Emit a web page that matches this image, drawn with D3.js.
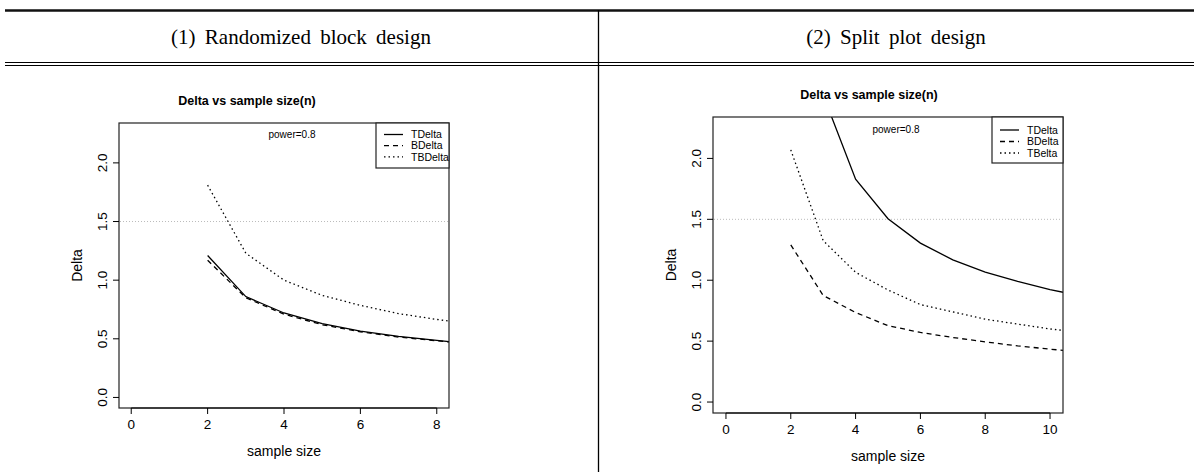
<!DOCTYPE html>
<meta charset="utf-8">
<script src="https://cdnjs.cloudflare.com/ajax/libs/d3/7.3.0/d3.min.js"></script>
<style>
  body { margin: 0; background: #fff; }
  svg text { font-family: "Liberation Sans", Arial, sans-serif; fill: #000; }
  .head { font-family: "Liberation Serif", "DejaVu Serif", serif; font-size: 21px; word-spacing: 4px; }
</style>
<div id="my_dataviz"></div>
<script>

    // sample sizes (n) and the delta values for each design
    const sampleSizes = [2, 3, 4, 5, 6, 7, 8, 9, 10, 11];

    // (1) randomized block design
    const rbdTDelta  = [1.21, 0.86, 0.72, 0.63, 0.565, 0.52, 0.486, 0.455, 0.43, 0.41];
    const rbdBDelta  = [1.17, 0.85, 0.71, 0.62, 0.56, 0.515, 0.483, 0.453, 0.43, 0.41];
    const rbdTBDelta = [1.81, 1.23, 1.00, 0.87, 0.785, 0.715, 0.665, 0.625, 0.59, 0.56];

    // (2) split plot design
    const spdTDelta = [3.80, 2.52, 1.83, 1.505, 1.305, 1.167, 1.066, 0.99, 0.922, 0.87];
    const spdBDelta = [1.29, 0.875, 0.735, 0.627, 0.571, 0.53, 0.494, 0.461, 0.434, 0.41];
    const spdTBelta = [2.07, 1.325, 1.065, 0.92, 0.80, 0.74, 0.68, 0.64, 0.60, 0.57];

    const xTicks = [0, 2, 4, 6, 8, 10];
    const yTicks = [0, 0.5, 1.0, 1.5, 2.0];
    const headers = ["(1) Randomized block design", "(2) Split plot design"];
    const refLine = 1.5;

    var svg = d3.select("#my_dataviz")
        .append("svg")
        .attr("width", 1194)
        .attr("height", 474);

    // table rules
    svg.append("line").attr("x1", 5).attr("x2", 1194).attr("y1", 10.5).attr("y2", 10.5)
        .attr("stroke", "#111").attr("stroke-width", 2.5);
    svg.append("line").attr("x1", 5).attr("x2", 1194).attr("y1", 62.5).attr("y2", 62.5)
        .attr("stroke", "#000").attr("stroke-width", 1);
    svg.append("line").attr("x1", 5).attr("x2", 1194).attr("y1", 65.5).attr("y2", 65.5)
        .attr("stroke", "#000").attr("stroke-width", 1);
    svg.append("line").attr("x1", 598.5).attr("x2", 598.5).attr("y1", 10).attr("y2", 472)
        .attr("stroke", "#000").attr("stroke-width", 1.3);

    svg.append("text").attr("class", "head").attr("x", 301).attr("y", 44)
        .attr("text-anchor", "middle").text(headers[0]);
    svg.append("text").attr("class", "head").attr("x", 896).attr("y", 44)
        .attr("text-anchor", "middle").text(headers[1]);

    // one R style panel
    function drawPanel(cfg) {
        var pad = function (lo, hi) { var d = (hi - lo) * 0.04; return [lo - d, hi + d]; };
        var x = d3.scaleLinear().domain(pad(0, cfg.xmax)).range([cfg.left, cfg.right]);
        var y = d3.scaleLinear().domain(pad(0, 2.25)).range([cfg.bottom, cfg.top]);
        var g = svg.append("g");

        g.append("clipPath").attr("id", cfg.id)
            .append("rect").attr("x", cfg.left).attr("y", cfg.top)
            .attr("width", cfg.right - cfg.left).attr("height", cfg.bottom - cfg.top);

        // reference line
        g.append("line")
            .attr("x1", cfg.left + 1).attr("x2", cfg.right - 1)
            .attr("y1", y(refLine)).attr("y2", y(refLine))
            .attr("stroke", "#bbb").attr("stroke-width", 1).attr("stroke-dasharray", "1,2");

        var line = d3.line()
            .x(function (d) { return x(d[0]); })
            .y(function (d) { return y(d[1]); });

        cfg.series.forEach(function (s) {
            g.append("path")
                .datum(sampleSizes.map(function (n, i) { return [n, s.values[i]]; }))
                .attr("clip-path", "url(#" + cfg.id + ")")
                .attr("fill", "none")
                .attr("stroke", "#000")
                .attr("stroke-width", 1.3)
                .attr("stroke-dasharray", s.dash)
                .attr("d", line);
        });

        // box
        g.append("rect").attr("x", cfg.left).attr("y", cfg.top)
            .attr("width", cfg.right - cfg.left).attr("height", cfg.bottom - cfg.top)
            .attr("fill", "none").attr("stroke", "#222").attr("stroke-width", 1.2);

        // x axis
        var xt = xTicks.filter(function (t) { return t <= cfg.xmax; });
        g.append("line").attr("x1", x(xt[0])).attr("x2", x(xt[xt.length - 1]))
            .attr("y1", cfg.bottom).attr("y2", cfg.bottom).attr("stroke", "#000");
        xt.forEach(function (t) {
            g.append("line").attr("x1", x(t)).attr("x2", x(t))
                .attr("y1", cfg.bottom).attr("y2", cfg.bottom + 6).attr("stroke", "#000");
            g.append("text").attr("x", x(t)).attr("y", cfg.bottom + 21)
                .attr("text-anchor", "middle").style("font-size", "13.5px").text(t);
        });

        // y axis
        yTicks.forEach(function (t) {
            g.append("line").attr("x1", cfg.left - 6).attr("x2", cfg.left)
                .attr("y1", y(t)).attr("y2", y(t)).attr("stroke", "#000");
            g.append("text")
                .attr("transform", "translate(" + (cfg.left - 17) + "," + y(t) + ") rotate(-90)")
                .attr("text-anchor", "middle").attr("dy", "0.35em")
                .style("font-size", "13.5px").text(d3.format(".1f")(t));
        });

        // titles
        g.append("text").attr("x", cfg.titleX).attr("y", cfg.titleY)
            .attr("text-anchor", "middle").style("font-size", "12.5px").style("font-weight", "bold")
            .text("Delta vs sample size(n)");
        g.append("text").attr("x", (cfg.left + cfg.right) / 2).attr("y", cfg.bottom + 48)
            .attr("text-anchor", "middle").style("font-size", "14px").text("sample size");
        g.append("text")
            .attr("transform", "translate(" + (cfg.left - 42) + "," + ((cfg.top + cfg.bottom) / 2) + ") rotate(-90)")
            .attr("text-anchor", "middle").attr("dy", "0.35em")
            .style("font-size", "14px").text("Delta");

        g.append("text").attr("x", cfg.powerX).attr("y", cfg.powerY).attr("dy", "0.35em")
            .attr("text-anchor", "middle").style("font-size", "10px").text("power=0.8");

        // legend
        var L = cfg.legend;
        g.append("rect").attr("x", L.x).attr("y", cfg.top).attr("width", cfg.right - L.x)
            .attr("height", L.bottom - cfg.top)
            .attr("fill", "#fff").attr("stroke", "#222").attr("stroke-width", 1.2);
        cfg.series.forEach(function (s, i) {
            var yy = L.y0 + i * L.step;
            g.append("line").attr("x1", L.x + 8).attr("x2", L.x + 27)
                .attr("y1", yy).attr("y2", yy)
                .attr("stroke", "#000").attr("stroke-width", 1.3).attr("stroke-dasharray", s.dash);
            g.append("text").attr("x", L.x + 35).attr("y", yy).attr("dy", "0.35em")
                .style("font-size", "10.5px").text(s.name);
        });
    }

    drawPanel({
        id: "clip1", left: 119, right: 449, top: 123, bottom: 408, xmax: 8,
        titleX: 247, titleY: 105, powerX: 292, powerY: 134,
        legend: { x: 376, bottom: 168, y0: 134.5, step: 11.2 },
        series: [
            { name: "TDelta", values: rbdTDelta, dash: null },
            { name: "BDelta", values: rbdBDelta, dash: "5,4" },
            { name: "TBDelta", values: rbdTBDelta, dash: "1.5,3" }
        ]
    });

    drawPanel({
        id: "clip2", left: 713, right: 1063, top: 117, bottom: 413, xmax: 10,
        titleX: 869, titleY: 99, powerX: 896, powerY: 129,
        legend: { x: 992, bottom: 163, y0: 130, step: 11.5 },
        series: [
            { name: "TDelta", values: spdTDelta, dash: null },
            { name: "BDelta", values: spdBDelta, dash: "5,4" },
            { name: "TBelta", values: spdTBelta, dash: "1.5,3" }
        ]
    });

</script>
